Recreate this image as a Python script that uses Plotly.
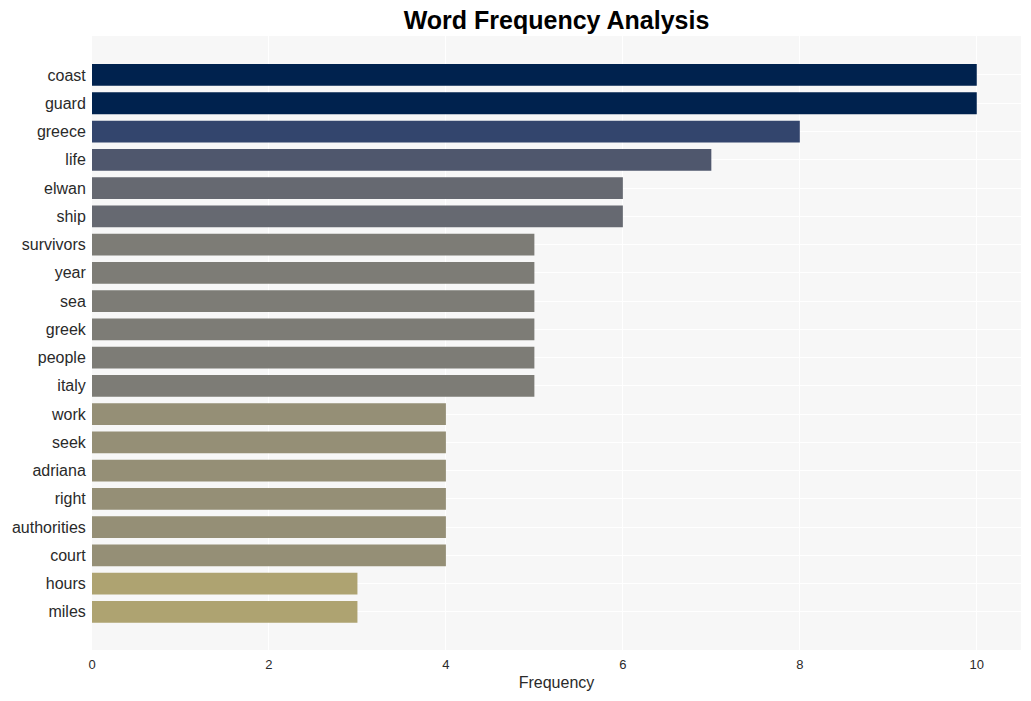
import plotly.graph_objects as go

words = ["coast", "guard", "greece", "life", "elwan", "ship", "survivors", "year", "sea",
         "greek", "people", "italy", "work", "seek", "adriana", "right", "authorities",
         "court", "hours", "miles"]
counts = [10, 10, 8, 7, 6, 6, 5, 5, 5, 5, 5, 5, 4, 4, 4, 4, 4, 4, 3, 3]

fig = go.Figure(go.Bar(
    x=counts, y=words, orientation="h",
    marker=dict(color=counts, colorscale="Cividis", reversescale=True, cmin=0, cmax=10,
                line=dict(width=0)),
))

# page body has an 8px margin, so the figure is sized to fit the 1031x701 window
fig.update_layout(
    width=1023, height=693,
    margin=dict(l=84, r=10, t=28, b=51),
    paper_bgcolor="white", plot_bgcolor="#f7f7f7",
    font=dict(family="Liberation Sans, Arial, sans-serif", color="#2a2a2a"),
    title=dict(text="<b>Word Frequency Analysis</b>", x=0.5, xref="paper", xanchor="center",
               y=1, yref="container", yanchor="top", pad=dict(t=3),
               font=dict(size=25, color="black")),
    bargap=0.23,
    showlegend=False,
)
fig.update_xaxes(title=dict(text="Frequency", font=dict(size=16), standoff=6), range=[0, 10.5],
                 tickvals=[0, 2, 4, 6, 8, 10], tickfont=dict(size=13),
                 ticks="outside", ticklen=2, tickcolor="rgba(0,0,0,0)",
                 gridcolor="white", gridwidth=1, zeroline=False, showline=False,
                 automargin=False)
fig.update_yaxes(range=[20.35, -1.38], tickfont=dict(size=16), gridcolor="white",
                 gridwidth=1, zeroline=False, showline=False, ticks="outside", ticklen=2,
                 tickcolor="rgba(0,0,0,0)", automargin=False)

fig.write_html("out.html")
